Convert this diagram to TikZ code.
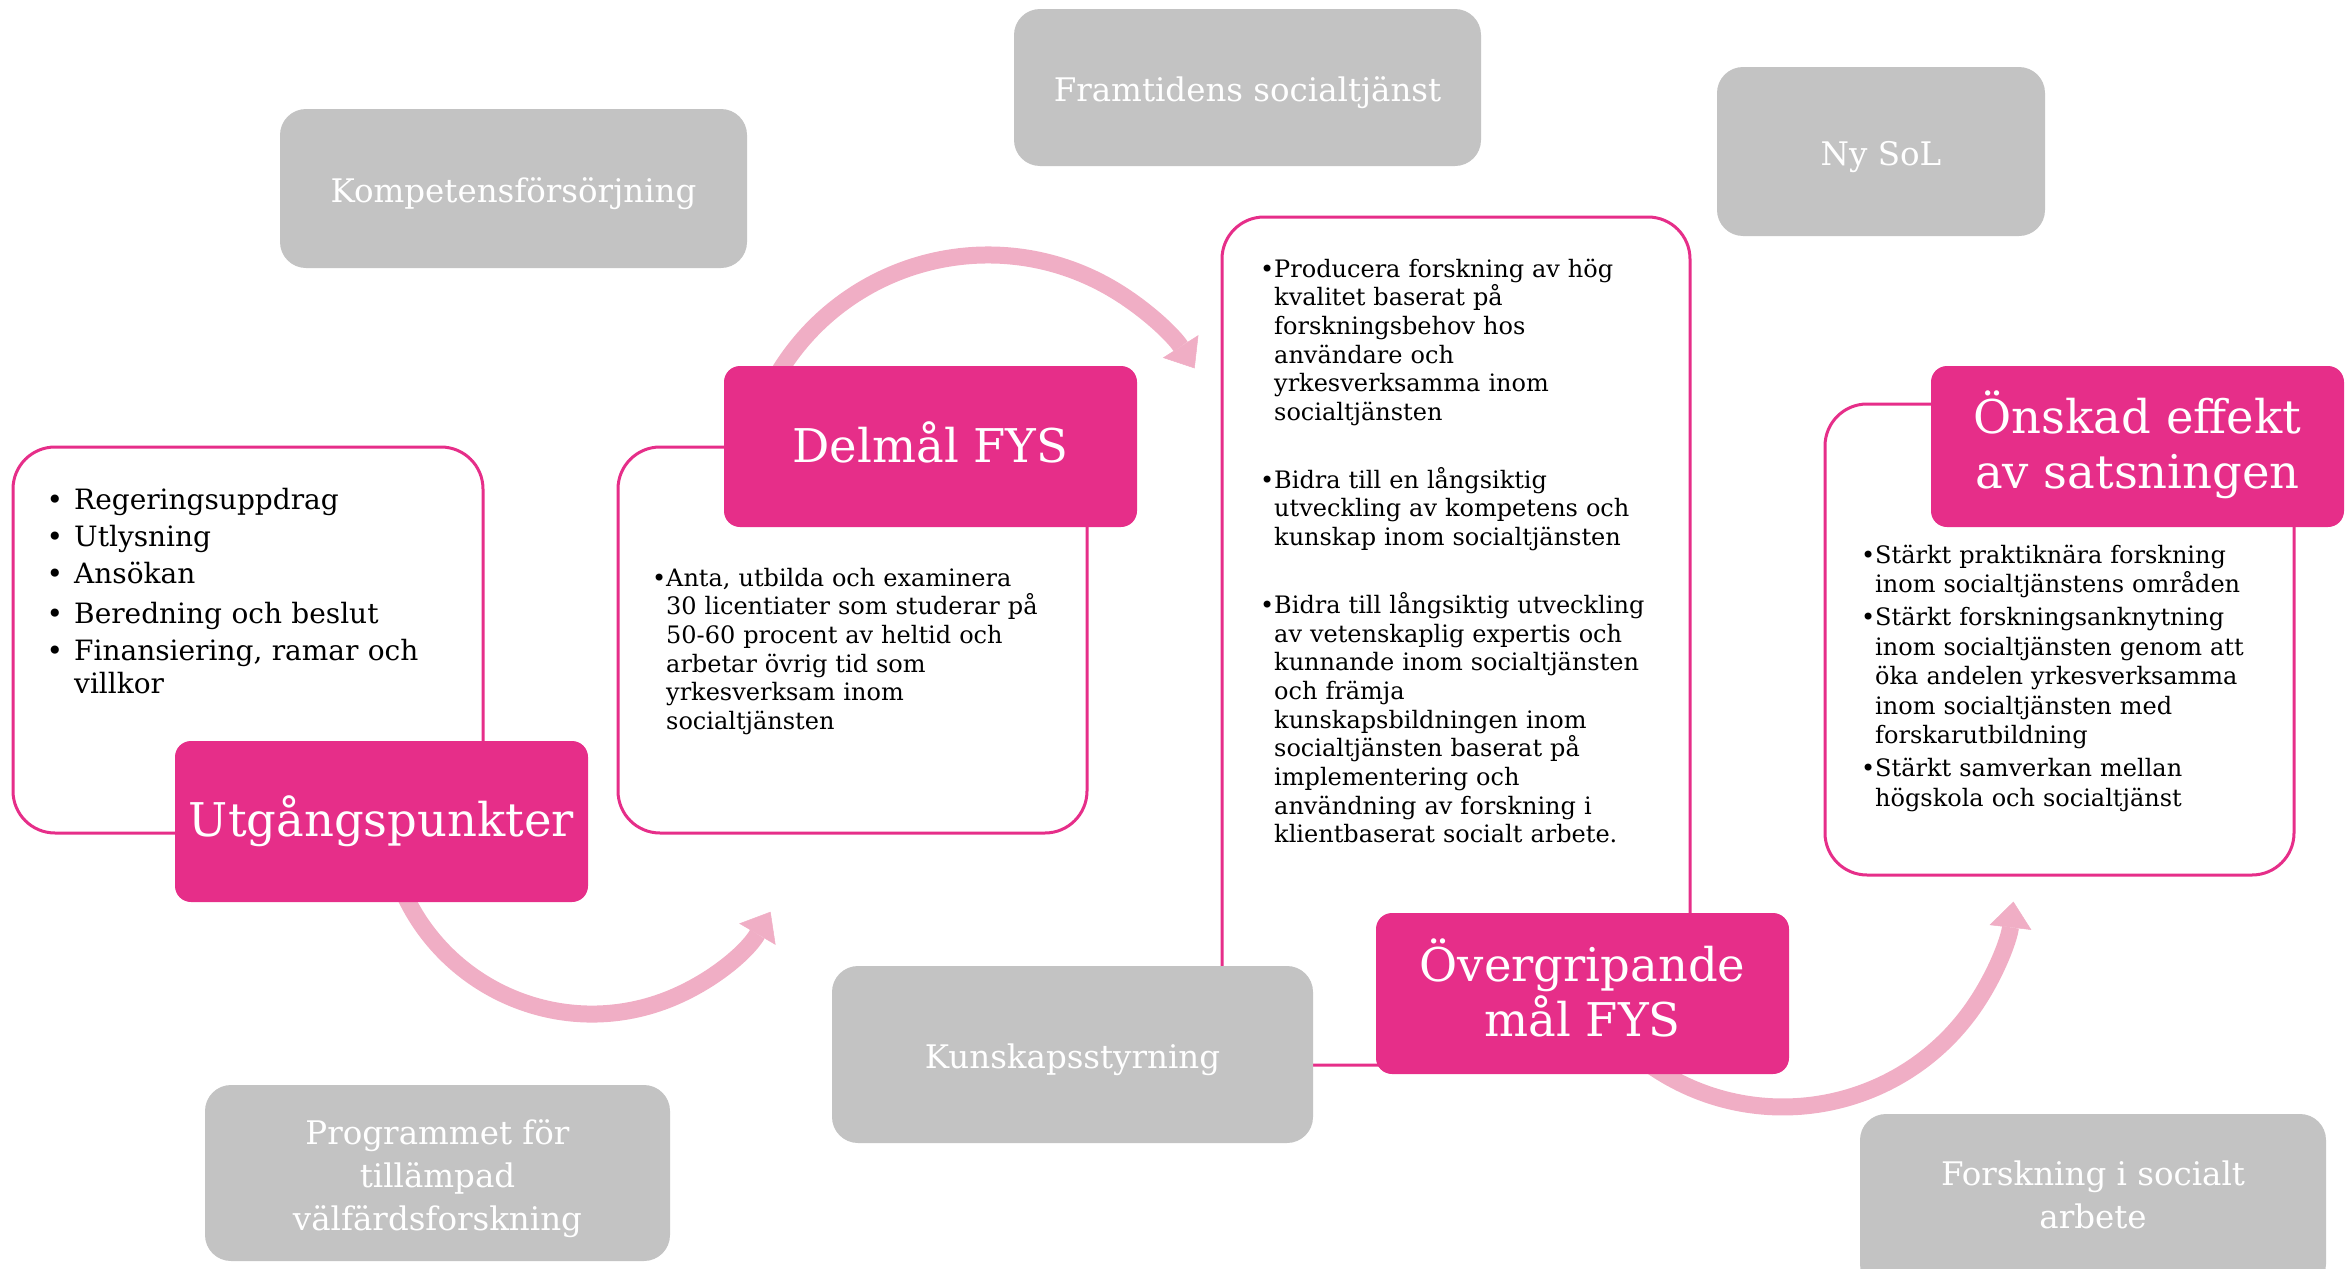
\documentclass[tikz,border=0pt]{standalone}
\usepackage{fontspec}
\setmainfont{DejaVu Serif}
\usetikzlibrary{arrows.meta}
\definecolor{fyspink}{RGB}{230,46,137}
\definecolor{fysarrow}{RGB}{240,174,197}
\definecolor{fysgray}{RGB}{195,195,195}
\newcommand{\fysdot}{\leavevmode\llap{•\hspace{11pt}}}
\newcommand{\fysbul}{\leavevmode\llap{•}}
\begin{document}
\begin{tikzpicture}[x=1pt,y=-1pt,
  outlinebox/.style={draw=fyspink, line width=3pt, fill=white, rounded corners=42pt, inner sep=0pt},
  headbox/.style={fill=fyspink, rounded corners=16pt, inner sep=0pt},
  headtext/.style={text=white, align=center, inner sep=0pt, font=\fontsize{46.5}{55.5}\selectfont},
  graybox/.style={fill=fysgray, rounded corners=26pt, inner sep=0pt},
  graytext/.style={text=white, align=center, inner sep=0pt, font=\fontsize{32.5}{43}\selectfont},
  flow/.style={draw=fysarrow, line width=17pt, -{Triangle[length=26pt,width=42pt,line width=0.5pt]}},
  listtext/.style={anchor=base west, inner sep=0pt, text width=460pt, align=left},
  listA/.style={font=\fontsize{28}{37}\selectfont},
  listB/.style={font=\fontsize{24}{28.7}\selectfont},
]
\clip (0,0) rectangle (2346,1269);

% curved process arrows
\coordinate (a1s) at (775.8,377.5);
\draw[flow] (a1s) arc[start angle=-150, end angle=-32.5, radius=245];
\coordinate (a2s) at (397.5,877.8);
\draw[flow] (a2s) arc[start angle=160, end angle=30.4, radius=207];
\coordinate (a3s) at (1649.9,1065);
\draw[flow] (a3s) arc[start angle=125, end angle=6.6, radius=232];

% outlined content boxes
\node[outlinebox, minimum width=470, minimum height=386] (box1) at (248,640) {};
\node[outlinebox, minimum width=469, minimum height=386] (box2) at (852.5,640) {};
\node[outlinebox, minimum width=468, minimum height=848] (box3) at (1456,641) {};
\node[outlinebox, minimum width=469, minimum height=471] (box4) at (2059.5,639.5) {};

% grey context boxes
\node[graybox, minimum width=467, minimum height=159] (komp) at (513.5,188.5) {};
\node[graytext] (kompt) at (513.5,194) {Kompetensförsörjning};
\node[graybox, minimum width=467, minimum height=157] (framt) at (1247.5,87.5) {};
\node[graytext] (framtt) at (1247.5,93) {Framtidens socialtjänst};
\node[graybox, minimum width=328, minimum height=169] (nysol) at (1881,151.5) {};
\node[graytext] (nysolt) at (1881,157) {Ny SoL};
\node[graybox, minimum width=481, minimum height=177] (kunsk) at (1072.5,1054.5) {};
\node[graytext] (kunskt) at (1072.5,1060) {Kunskapsstyrning};
\node[graybox, minimum width=465, minimum height=176] (progr) at (437.5,1173) {};
\node[graytext] (progrt) at (437.5,1178.5) {Programmet för\\tillämpad\\välfärdsforskning};
\node[graybox, minimum width=466, minimum height=176] (forsk) at (2093,1202) {};
\node[graytext] (forskt) at (2093,1195) {Forskning i socialt\\arbete};

% pink header boxes
\node[headbox, minimum width=413, minimum height=161] (utg) at (381.5,821.5) {};
\node[headtext] (utgt) at (381.5,821) {Utgångspunkter};
\node[headbox, minimum width=413, minimum height=161] (delmal) at (930.5,446.5) {};
\node[headtext] (delmalt) at (930.5,442) {Delmål FYS};
\node[headbox, minimum width=413, minimum height=161] (overgr) at (1582.5,993.5) {};
\node[headtext] (overgrt) at (1582.5,988) {Övergripande\\mål FYS};
\node[headbox, minimum width=413, minimum height=161] (onskad) at (2137.5,446.5) {};
\node[headtext] (onskadt) at (2137.5,445) {Önskad effekt\\av satsningen};

% list texts
\node[listtext, listA] (list1) at (74,509) {%
\fysdot Regeringsuppdrag\par
\fysdot Utlysning\par
\fysdot Ansökan\par\vspace{3pt}
\fysdot Beredning och beslut\par
\fysdot Finansiering, ramar och\\[-4pt]villkor};

\node[listtext, listB] (list2) at (666,586) {%
\fysbul Anta, utbilda och examinera\\30 licentiater som studerar på\\50-60 procent av heltid och\\arbetar övrig tid som\\yrkesverksam inom\\socialtjänsten};

\node[listtext, listB] (list3) at (1274,277) {%
\fysbul Producera forskning av hög\\kvalitet baserat på\\forskningsbehov hos\\användare och\\yrkesverksamma inom\\socialtjänsten\par\vspace{39pt}
\fysbul Bidra till en långsiktig\\utveckling av kompetens och\\kunskap inom socialtjänsten\par\vspace{39pt}
\fysbul Bidra till långsiktig utveckling\\av vetenskaplig expertis och\\kunnande inom socialtjänsten\\och främja\\kunskapsbildningen inom\\socialtjänsten baserat på\\implementering och\\användning av forskning i\\klientbaserat socialt arbete.};

\node[listtext, font=\fontsize{24}{29.5}\selectfont] (list4) at (1875,563) {%
\fysbul Stärkt praktiknära forskning\\inom socialtjänstens områden\par\vspace{3.5pt}
\fysbul Stärkt forskningsanknytning\\inom socialtjänsten genom att\\öka andelen yrkesverksamma\\inom socialtjänsten med\\forskarutbildning\par\vspace{3.5pt}
\fysbul Stärkt samverkan mellan\\högskola och socialtjänst};
\end{tikzpicture}
\end{document}
